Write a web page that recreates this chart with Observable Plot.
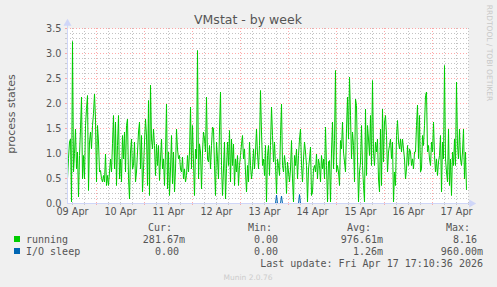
<!DOCTYPE html>
<html><head><meta charset="utf-8">
<script src="https://cdn.jsdelivr.net/npm/d3@7"></script>
<script src="https://cdn.jsdelivr.net/npm/@observablehq/plot@0.6"></script>
<style>html,body{margin:0;padding:0;background:#f0f0f0;} svg{display:block}</style>
</head><body><div id="chart"></div>
<script>
// "running" process count, one value per 30 minutes, starting 09 Apr 09:30
const running = [
0.49,0.9,1.23,1.29,0.03,3.24,0.63,1.0,1.49,0.69,
1.03,0.13,0.96,1.5,2.13,0.49,0.96,0.49,1.56,1.9,
2.16,0.26,1.23,1.43,1.09,1.56,1.8,2.19,1.69,0.43,
1.56,1.23,0.63,0.66,0.5,0.43,0.56,0.43,0.99,0.36,
0.56,0.36,0.63,0.89,0.63,1.2,1.76,0.69,1.63,0.36,
1.16,1.76,0.49,0.89,0.43,1.36,0.89,1.43,0.63,1.56,
1.69,0.5,0.09,1.03,1.29,0.69,0.76,1.23,0.43,0.63,
1.03,1.43,1.63,0.69,1.36,0.23,0.69,1.23,1.69,
1.35,
0.36,2.06,0.16,2.37,1.29,1.09,1.49,1.16,0.56,1.19,
0.76,1.16,0.46,0.89,1.29,0.69,0.89,0.36,1.03,1.99,
0.29,1.03,0.16,0.69,1.36,0.39,1.03,0.23,0.69,1.49,
1.09,0.89,0.96,0.69,0.63,0.93,0.49,0.69,0.43,0.56,
0.96,0.63,1.03,1.93,0.69,1.56,0.83,0.16,1.09,0.89,
3.06,0.49,1.19,1.03,0.29,1.03,1.43,1.29,1.03,2.13,
0.89,0.83,1.16,0.69,1.16,1.53,1.49,0.76,0.16,1.23,
0.89,0.49,1.49,2.23,0.76,0.16,0.69,1.23,0.09,
0.7,
1.23,0.76,1.46,0.43,1.29,0.76,1.19,0.36,0.89,0.63,
0.96,0.36,0.76,0.96,1.19,1.36,0.89,1.09,0.63,0.23,
0.76,0.43,1.23,0.76,0.49,0.69,1.09,0.69,1.03,1.49,
0.99,0.69,1.16,2.26,1.43,0.76,0.89,0.56,1.16,0.03,
0.96,1.16,0.56,1.16,1.93,1.36,0.83,1.23,0.76,0.2,
0.89,0.76,0.56,1.36,1.99,0.76,0.63,0.96,0.76,0.2,
0.83,0.63,0.43,0.69,1.26,0.49,0.03,0.96,0.76,1.09,
0.49,0.96,1.29,1.49,0.76,0.43,0.89,1.23,1.03,
0.76,0.03,0.69,0.89,1.13,0.16,0.23,0.69,0.76,0.63,
0.99,0.49,0.89,0.76,0.43,0.96,0.69,0.89,0.49,1.53,
0.76,0.03,0.83,0.86,0.03,1.03,1.63,0.69,1.26,2.66,
0.63,0.76,0.63,0.36,1.26,1.09,1.63,1.03,0.83,0.63,
1.49,2.13,1.29,2.53,1.76,0.89,1.43,1.16,0.43,2.09,
1.96,0.89,0.03,0.63,0.83,1.56,0.76,0.36,0.03,1.89,
0.56,1.56,1.29,0.96,1.76,0.76,2.46,1.03,0.76,1.23,
1.03,1.29,0.49,0.23,1.49,0.36,1.89,0.83,1.63,1.76,
1.36,0.63,1.03,1.16,1.29,0.89,1.23,0.03,0.63,0.36,
1.36,1.66,1.23,1.09,1.29,1.03,1.29,1.09,0.89,0.49,
0.69,1.16,0.76,1.09,1.03,0.76,0.89,0.69,1.03,1.03,
1.56,1.97,0.89,1.76,0.63,0.69,1.36,1.16,1.56,2.16,
2.23,1.03,1.16,0.89,0.76,1.23,1.03,1.63,0.96,0.63,
0.89,0.56,0.83,0.96,1.36,0.23,1.23,0.89,2.76,0.89,
0.63,0.43,1.49,0.36,0.89,0.16,1.03,0.76,1.29,0.76,
2.43,1.16,0.89,1.49,0.89,0.76,1.03,1.49,0.49,1.03,0.28
];
// I/O sleep: zero except these samples
const ioSleepIndex = [209, 214, 232];
const ioSleepValue = [0.17, 0.15, 0.18];

const dayLabels = ["09 Apr","10 Apr","11 Apr","12 Apr","13 Apr","14 Apr","15 Apr","16 Apr","17 Apr"];
const yTicks = [0, 0.5, 1, 1.5, 2, 2.5, 3, 3.5];

const legendNames = ["running", "I/O sleep"];
const legendColors = ["#00cc00", "#0066b3"];
const legendHeaders = ["Cur:", "Min:", "Avg:", "Max:"];
const curValues = ["281.67m", "0.00"];
const minValues = ["0.00", "0.00"];
const avgValues = ["976.61m", "1.26m"];
const maxValues = ["8.16", "960.00m"];
const titleText = "VMstat - by week";
const yLabelText = "process states";
const lastUpdateText = "Last update: Fri Apr 17 17:10:36 2026";
const footerText = "Munin 2.0.76";
const watermarkText = "RRDTOOL / TOBI OETIKER";

const startTime = Date.UTC(2026, 3, 9, 9, 30);
const stepMs = 30 * 60 * 1000;
const xDomain = [new Date(startTime), new Date(startTime + 401 * stepMs)];

const runningData = running.map((v, i) => ({t: new Date(startTime + i * stepMs), v}));
const ioMap = new Map(ioSleepIndex.map((k, j) => [k, ioSleepValue[j]]));
const ioData = running.map((_, i) => ({t: new Date(startTime + i * stepMs), v: ioMap.get(i) ?? 0}));

const dayNoons = dayLabels.map((_, i) => new Date(Date.UTC(2026, 3, 9 + i, 12)));
const labelMap = new Map(dayNoons.map((d, i) => [+d, dayLabels[i]]));
const midnights = d3.utcDay.range(xDomain[0], xDomain[1]);
const sixHours = d3.utcHour.every(6).range(xDomain[0], new Date(+xDomain[1] + 1)).filter(d => d.getUTCHours() !== 0);
const minorY = d3.range(1, 35).filter(i => i % 5 !== 0).map(i => i / 10);
const majorY = yTicks.filter(v => v > 0);

const gridMinor = "#b4b4b4", gridMajor = "#ff6f6f", axisColor = "#cfd6f8";
const dash = "1,2";

const chart = Plot.plot({
  width: 497, height: 287,
  marginLeft: 67, marginRight: 29, marginTop: 28, marginBottom: 84,
  style: {fontFamily: "DejaVu Sans", fontSize: "9.7px", color: "#555", background: "#f0f0f0", overflow: "visible"},
  x: {type: "utc", domain: xDomain, axis: null},
  y: {domain: [0, 3.5], axis: null},
  marks: [
    Plot.frame({fill: "white", stroke: "none"}),
    Plot.ruleY(minorY, {stroke: gridMinor, strokeOpacity: 0.8, strokeDasharray: dash}),
    Plot.ruleX(sixHours, {stroke: gridMinor, strokeOpacity: 0.8, strokeDasharray: dash}),
    Plot.ruleY(majorY, {stroke: gridMajor, strokeOpacity: 0.6, strokeDasharray: dash}),
    Plot.ruleX(midnights, {stroke: gridMajor, strokeOpacity: 0.6, strokeDasharray: dash}),
    // small outward ticks
    Plot.ruleY(minorY, {x1: new Date(startTime - 3600000), x2: xDomain[0], stroke: gridMinor, strokeOpacity: 0.6}),
    Plot.ruleY(majorY, {x1: new Date(startTime - 3600000), x2: xDomain[0], stroke: gridMajor, strokeOpacity: 0.55}),
    Plot.ruleX(sixHours, {y1: 0, y2: -0.04, stroke: gridMinor, strokeOpacity: 0.6}),
    Plot.ruleX(midnights, {y1: 0, y2: -0.04, stroke: gridMajor, strokeOpacity: 0.55}),
    Plot.line(runningData, {x: "t", y: "v", stroke: legendColors[0], strokeWidth: 1}),
    Plot.line(ioData, {x: "t", y: "v", stroke: legendColors[1], strokeWidth: 1}),
    Plot.ruleY([0], {x1: xDomain[0], x2: new Date(+xDomain[1] + 2 * 3600000), stroke: axisColor}),
    Plot.ruleX([xDomain[0]], {y1: 0, y2: 3.6, stroke: axisColor}),
    Plot.dot([{t: new Date(+xDomain[1] + 1.5 * 3600000), v: 0}], {x: "t", y: "v", symbol: "triangle", rotate: 90, r: 3, fill: axisColor, stroke: "none"}),
    Plot.dot([{t: xDomain[0], v: 3.6}], {x: "t", y: "v", symbol: "triangle", r: 3, fill: axisColor, stroke: "none"}),
    Plot.axisY(yTicks, {anchor: "left", tickSize: 0, tickPadding: 6, tickFormat: d => d.toFixed(1), label: null}),
    Plot.axisX(dayNoons, {anchor: "bottom", tickSize: 0, tickPadding: 5, tickFormat: d => labelMap.get(+d), label: null})
  ]
});
document.getElementById("chart").appendChild(chart);

const svg = d3.select(chart);
function addText(x, y, s, o = {}) {
  const t = svg.append("text").attr("x", x).attr("y", y).text(s)
    .attr("font-family", o.family || "DejaVu Sans")
    .attr("font-size", o.size || 10)
    .attr("fill", o.fill || "#555")
    .attr("text-anchor", o.anchor || "start");
  if (o.transform) t.attr("transform", o.transform);
  return t;
}
addText(248, 24, titleText, {size: 12.5, anchor: "middle"});
addText(15, 114, yLabelText, {size: 11, anchor: "middle", transform: "rotate(-90,15,114)"});
addText(487, 53, watermarkText, {size: 7.5, anchor: "middle", fill: "#c8c8c8", transform: "rotate(90,487,53)"});

const mono = "DejaVu Sans Mono";
const headerX = [172, 272, 371, 470];
const valueX = [185, 284, 383, 483];
legendHeaders.forEach((h, i) => addText(headerX[i], 230.5, h, {family: mono, anchor: "end"}));
const pad = s => /[a-zA-Z]$/.test(s) ? s : s + "\u00a0";
legendNames.forEach((name, r) => {
  const y = 243 + r * 12;
  svg.append("rect").attr("x", 14).attr("y", y - 7).attr("width", 6).attr("height", 6).attr("fill", legendColors[r]);
  addText(26, y, name, {family: mono});
  [curValues, minValues, avgValues, maxValues].forEach((col, c) =>
    addText(valueX[c], y, pad(col[r]), {family: mono, anchor: "end"}).attr("xml:space", "preserve"));
});
addText(483, 266.5, lastUpdateText, {family: mono, anchor: "end"});
addText(248, 279.5, footerText, {size: 7.5, anchor: "middle", fill: "#cccccc"});
</script></body></html>
